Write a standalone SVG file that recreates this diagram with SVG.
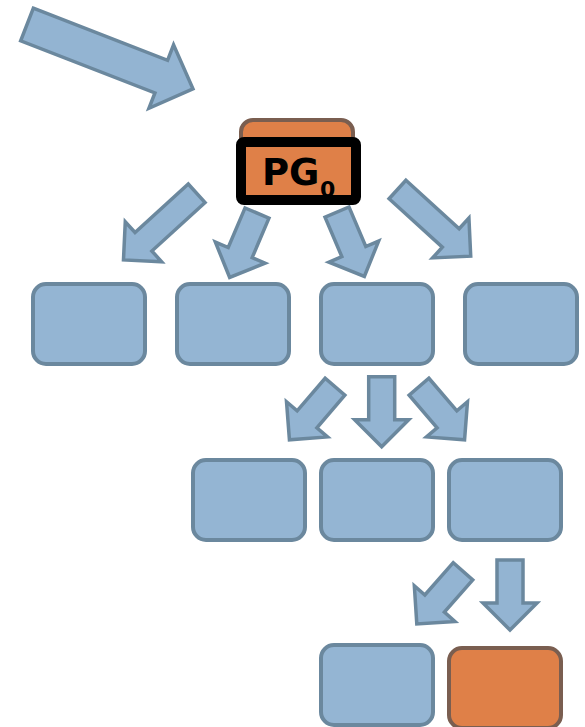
<svg xmlns="http://www.w3.org/2000/svg" width="585" height="727" viewBox="0 0 585 727">
  <style>
    .box { fill: #94b5d3; stroke: #6b889e; stroke-width: 4; }
    .hot { fill: #df8048; stroke: #7a5e50; stroke-width: 4; }
    .arrow { fill: #93b4d2; stroke: #6b889e; stroke-width: 3.5; stroke-linejoin: miter; }
    .label { font-family: "DejaVu Sans", sans-serif; font-weight: bold; fill: #000; }
  </style>
  <defs>
    <!-- block arrows, drawn pointing right from the tail centre -->
    <path id="arrLong" d="M0,-12.5 H72 V-27 L99,0 L72,27 V12.5 H0 Z"/>
    <path id="arrShort" d="M0,-13 H43 V-27 L70,0 L43,27 V13 H0 Z"/>
  </defs>

  <g id="connectors">
    <!-- entry arrow -->
    <path class="arrow" d="M0,-17.5 H144 V-34 L178,0 L144,34 V17.5 H0 Z" transform="translate(27,24.5) rotate(21.2)"/>
    <!-- root fan-out -->
    <use class="arrow" href="#arrLong" transform="translate(196.7,193.3) rotate(137.7)"/>
    <use class="arrow" href="#arrShort" transform="translate(257,213) rotate(113)"/>
    <use class="arrow" href="#arrShort" transform="translate(337,212) rotate(67)"/>
    <use class="arrow" href="#arrLong" transform="translate(397.5,189.5) rotate(42.3)"/>
    <!-- second level -->
    <use class="arrow" href="#arrShort" transform="translate(335,386.7) rotate(130.6)"/>
    <use class="arrow" href="#arrShort" transform="translate(381.7,376.7) rotate(90)"/>
    <use class="arrow" href="#arrShort" transform="translate(419,386.7) rotate(49.4)"/>
    <!-- third level -->
    <use class="arrow" href="#arrShort" transform="translate(463,571.3) rotate(131.3)"/>
    <use class="arrow" href="#arrShort" transform="translate(510,560) rotate(90)"/>
  </g>

  <g id="root">
    <rect class="hot" x="241" y="120" width="112" height="60" rx="12"/>
    <rect x="241" y="142" width="115" height="58" fill="#df8048"/>
    <text class="label" x="262" y="185" font-size="37">PG</text>
    <text class="label" x="320" y="197" font-size="22">0</text>
    <rect x="241" y="142" width="115" height="58" rx="3" fill="none" stroke="#000" stroke-width="10"/>
  </g>

  <g id="n1a"><rect class="box" x="33" y="284" width="112" height="80" rx="13"/></g>
  <g id="n1b"><rect class="box" x="177" y="284" width="112" height="80" rx="13"/></g>
  <g id="n1c"><rect class="box" x="321" y="284" width="112" height="80" rx="13"/></g>
  <g id="n1d"><rect class="box" x="465" y="284" width="112" height="80" rx="13"/></g>

  <g id="n2a"><rect class="box" x="193" y="460" width="112" height="80" rx="13"/></g>
  <g id="n2b"><rect class="box" x="321" y="460" width="112" height="80" rx="13"/></g>
  <g id="n2c"><rect class="box" x="449" y="460" width="112" height="80" rx="13"/></g>

  <g id="n3a"><rect class="box" x="321" y="645" width="112" height="80" rx="13"/></g>
  <g id="n3b"><rect class="hot" x="449" y="648" width="112" height="80" rx="13"/></g>
</svg>
